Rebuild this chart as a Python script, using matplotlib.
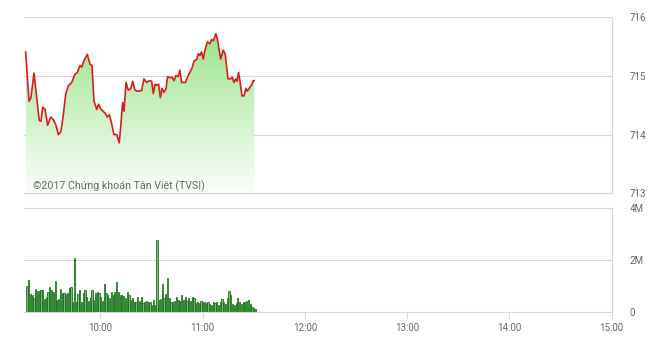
import matplotlib
matplotlib.use('Agg')
import matplotlib.pyplot as plt
import numpy as np
from matplotlib.colors import LinearSegmentedColormap
from matplotlib.patches import PathPatch

# ---- data ----
price_minutes = [1.2, 3.2, 4.3, 6.1, 7.7, 9.2, 10.2, 11.2, 12.6, 14.1,
                 15.9, 17.4, 19.0, 20.4, 21.9, 23.3, 24.7, 26.2, 28.2, 30.1,
                 31.5, 33.1, 34.1, 35.4, 37.4, 38.9, 40.1, 41.3, 42.9, 44.0,
                 45.4, 47.7, 49.1, 50.3, 51.7, 53.0, 54.6, 56.1, 56.9, 58.1,
                 58.9, 60.1, 61.4, 62.8, 64.0, 65.3, 66.7, 69.2, 70.6, 72.2,
                 73.7, 75.1, 76.1, 77.1, 78.0, 79.2, 80.2, 81.2, 82.3, 83.5,
                 84.5, 85.9, 87.2, 88.2, 89.4, 90.7, 91.7, 92.7, 94.9, 96.6,
                 98.6, 100.1, 101.5, 102.5, 103.5, 104.4, 105.4, 106.4, 107.8, 109.3,
                 110.3, 111.3, 112.8, 113.6, 114.8, 115.6, 117.1, 118.3, 119.9, 121.4,
                 122.4, 123.4, 124.4, 125.2, 126.1, 126.9, 128.1, 129.3, 130.4, 131.2,
                 132.4, 134.0, 134.7, 135.3]
price_values = [715.41, 714.57, 714.63, 715.05, 714.63, 714.24, 714.23, 714.47, 714.43, 714.16,
                714.30, 714.26, 714.16, 714.00, 714.05, 714.34, 714.69, 714.83, 714.89, 715.03,
                715.06, 715.18, 715.15, 715.26, 715.37, 715.20, 715.18, 714.57, 714.43, 714.52,
                714.43, 714.37, 714.30, 714.34, 714.18, 714.00, 714.00, 713.86, 714.11, 714.55,
                714.40, 714.89, 714.76, 714.78, 714.91, 714.76, 714.74, 714.75, 714.95, 714.89,
                714.92, 714.91, 714.70, 714.86, 714.84, 714.86, 714.63, 714.79, 714.72, 714.78,
                714.99, 714.97, 714.98, 714.92, 715.01, 714.99, 715.10, 714.89, 714.89, 715.01,
                715.12, 715.26, 715.28, 715.38, 715.35, 715.41, 715.29, 715.44, 715.58, 715.55,
                715.62, 715.60, 715.72, 715.64, 715.43, 715.29, 715.44, 715.37, 714.95, 714.95,
                714.98, 714.89, 714.95, 714.91, 715.06, 714.92, 714.66, 714.66, 714.79, 714.74,
                714.79, 714.86, 714.92, 714.92]
volume_millions = [1.01, 1.23, 0.68, 0.65, 0.54, 0.86, 0.81, 0.81, 0.84, 0.84,
                   0.49, 0.58, 0.77, 0.97, 0.84, 0.77, 1.19, 0.45, 0.48, 0.88,
                   0.71, 0.71, 0.67, 0.71, 0.93, 0.97, 0.36, 2.06, 0.39, 0.67,
                   0.84, 0.39, 0.71, 0.84, 0.58, 0.41, 0.52, 0.84, 0.45, 0.71,
                   0.77, 0.71, 0.58, 0.41, 1.06, 0.71, 0.65, 0.52, 0.75, 0.65,
                   0.75, 1.14, 0.77, 0.65, 0.65, 0.62, 0.52, 0.77, 0.65, 0.45,
                   0.54, 0.39, 0.39, 0.58, 0.41, 0.58, 0.32, 0.39, 0.41, 0.36,
                   0.39, 0.26, 0.45, 0.26, 2.77, 0.45, 0.49, 1.06, 0.54, 0.67,
                   1.32, 0.52, 0.36, 0.39, 0.41, 0.58, 0.45, 0.41, 0.65, 0.45,
                   0.58, 0.41, 0.54, 0.41, 0.58, 0.54, 0.32, 0.36, 0.32, 0.41,
                   0.36, 0.39, 0.32, 0.39, 0.28, 0.26, 0.36, 0.32, 0.39, 0.26,
                   0.39, 0.49, 0.39, 0.28, 0.52, 0.80, 0.65, 0.28, 0.26, 0.32,
                   0.54, 0.39, 0.28, 0.36, 0.39, 0.41, 0.45, 0.28, 0.19, 0.15,
                   0.10]
hour_ticks = [10, 11, 12, 13, 14, 15]
hour_labels = ['10:00', '11:00', '12:00', '13:00', '14:00', '15:00']
price_ticks = [713, 714, 715, 716]
price_labels = ['713', '714', '715', '716']
vol_ticks = [0, 2, 4]
vol_labels = ['0', '2M', '4M']
session_start, session_end = 9.25, 15.0
vol_first, vol_last = 9 + 17 / 60, 11 + 31 / 60
copyright_text = '©2017 Chứng khoán Tân Việt (TVSI)'

# ---- style ----
FONT = ['Roboto', 'DejaVu Sans']
plt.rcParams['font.family'] = FONT
GRID = '#d9d9d9'
TXT = '#666666'

W, H = 660, 342
fig = plt.figure(figsize=(W / 100, H / 100), dpi=100)
fig.patch.set_facecolor('white')
left = 23.6 / W
width = (611.7 - 23.6) / W
ax1 = fig.add_axes([left, 1 - 193.3 / H, width, 176 / H])
ax2 = fig.add_axes([left, 1 - 311.7 / H, width, 103.4 / H])

# ---- price chart ----
x = session_start + np.array(price_minutes) / 60
y = np.array(price_values)
ax1.set_xlim(session_start, session_end)
ax1.set_ylim(713, 716)

poly = ax1.fill_between(x, y, 713, facecolor='none', edgecolor='none')
path = poly.get_paths()[0]
patch = PathPatch(path, transform=ax1.transData, facecolor='none', edgecolor='none')
ax1.add_patch(patch)
cmap = LinearSegmentedColormap.from_list('g', ['#fbfefa', '#c8f0c0', '#8fe27f'])
grad = np.linspace(0, 1, 256).reshape(-1, 1)
im = ax1.imshow(grad, extent=[x.min(), x.max(), 713, 716], aspect='auto',
                origin='lower', cmap=cmap, zorder=1, interpolation='bilinear')
im.set_clip_path(patch)
ax1.plot(x, y, color='#d81e1e', lw=1.2, zorder=3)

ax1.set_yticks(price_ticks)
ax1.set_yticklabels(price_labels)
ax1.yaxis.tick_right()
ax1.tick_params(axis='y', length=0, pad=13, labelsize=7.0, labelcolor=TXT)
ax1.set_xticks([])
ax1.grid(axis='y', color=GRID, lw=0.8, zorder=0)
ax1.set_axisbelow(True)
ax1.spines['left'].set_visible(False)
for s in ['top', 'bottom', 'right']:
    ax1.spines[s].set_color(GRID)
    ax1.spines[s].set_linewidth(0.8)

fig.text(32.7 / W, 1 - 189.3 / H, copyright_text, fontsize=7.7, color=TXT,
         va='baseline', ha='left', family=FONT)

# ---- volume chart ----
vx = np.linspace(vol_first, vol_last, len(volume_millions))
ax2.bar(vx, volume_millions, width=0.7 / 60, color='#7ab87a',
        edgecolor='#0e6e0e', linewidth=0.55, zorder=2)
ax2.set_xlim(session_start, session_end)
ax2.set_ylim(0, 4)
ax2.set_yticks(vol_ticks)
ax2.set_yticklabels(vol_labels)
ax2.yaxis.tick_right()
ax2.tick_params(axis='y', length=0, pad=13, labelsize=7.0, labelcolor=TXT)
ax2.set_xticks(hour_ticks)
ax2.set_xticklabels(hour_labels)
ax2.tick_params(axis='x', length=5, width=0.8, color=GRID, pad=3,
                labelsize=7.0, labelcolor=TXT)
ax2.grid(axis='y', color=GRID, lw=0.8, zorder=0)
ax2.set_axisbelow(True)
ax2.spines['left'].set_visible(False)
for s in ['top', 'bottom', 'right']:
    ax2.spines[s].set_color(GRID)
    ax2.spines[s].set_linewidth(0.8)

fig.savefig('out.png', dpi=100, facecolor='white')
